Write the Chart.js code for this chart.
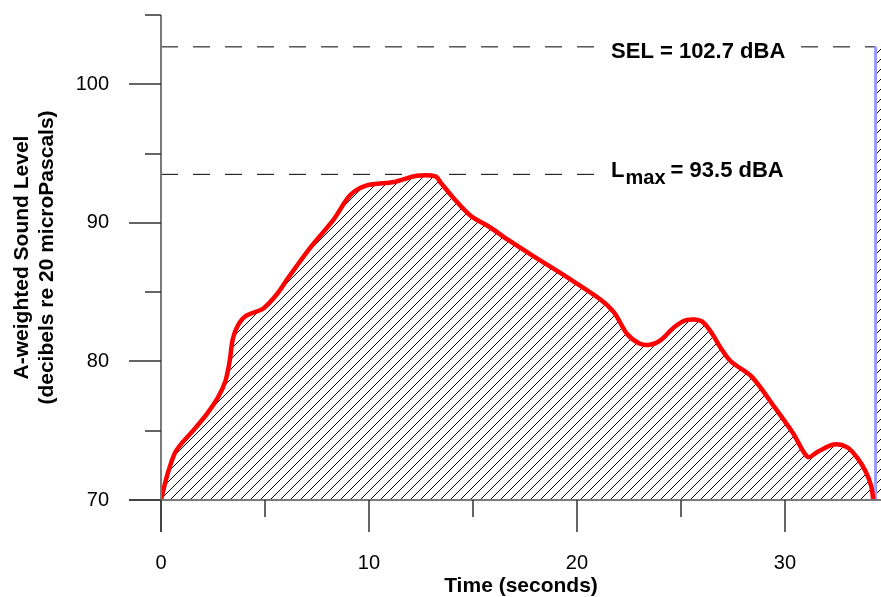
<!DOCTYPE html>
<html>
<head>
<meta charset="utf-8">
<script src="https://cdn.jsdelivr.net/npm/chart.js@4.4.0/dist/chart.umd.min.js"></script>
<style>
  body { margin: 0; background: #fff; }
  canvas { display: block; }
</style>
</head>
<body>
<canvas id="c" width="881" height="597"></canvas>
<script>
// sound level time history (seconds, dBA)
var times = [0, 0.3, 0.67, 1.0, 1.54, 2.2, 2.74, 3.1, 3.3, 3.45, 3.7, 4.1, 4.9, 5.6, 6.1,
  7.17, 8.28, 9.1, 9.9, 11.2, 12.3, 13.2, 13.45, 14.06, 14.9, 15.8, 16.66, 17.9, 19.5,
  21.1, 21.8, 22.4, 23.0, 23.5, 24.0, 24.7, 25.3, 26.0, 26.5, 26.9, 27.4, 28.4, 29.5,
  30.4, 31.1, 31.6, 32.35, 33.0, 33.5, 33.9, 34.15, 34.25];
var levels = [70, 71.8, 73.4, 74.1, 75.0, 76.2, 77.4, 78.6, 80.0, 81.6, 82.6, 83.3, 83.8, 84.9, 86.0,
  88.2, 90.2, 92.0, 92.7, 92.95, 93.4, 93.35, 92.9, 91.8, 90.5, 89.7, 88.8, 87.6, 86.1,
  84.5, 83.5, 82.0, 81.3, 81.2, 81.5, 82.5, 83.0, 82.9, 82.0, 81.0, 80.0, 78.9, 76.7,
  74.8, 73.1, 73.5, 74.0, 73.8, 73.0, 72.0, 71.0, 70];

var SEL = 102.7;
var LMAX = 93.5;
var SEL_START = 34.36;   // 1 s block of equal energy starts here
var LMAX_END = 20.87;    // Lmax guide line stops before its label
var xTicks = [0, 10, 20, 30];
var xMinor = [5, 15, 25];
var yTicks = [70, 80, 90, 100];
var yMinor = [75, 85, 95, 105];

var FONT = "'Liberation Sans', Arial, Helvetica, sans-serif";

function hatchPattern() {
  var p = document.createElement('canvas');
  p.width = 10; p.height = 10;
  var g = p.getContext('2d');
  g.strokeStyle = '#000';
  g.lineWidth = 1;
  g.beginPath();
  g.moveTo(-1, 1); g.lineTo(1, -1);
  g.moveTo(-1, 11); g.lineTo(11, -1);
  g.moveTo(9, 11); g.lineTo(11, 9);
  g.stroke();
  return document.getElementById('c').getContext('2d').createPattern(p, 'repeat');
}
var hatch = hatchPattern();

var curve = times.map(function (t, i) { return { x: t, y: levels[i] }; });

var axesPlugin = {
  id: 'axes',
  afterDraw: function (chart) {
    var ctx = chart.ctx;
    var xs = chart.scales.x, ys = chart.scales.y;
    var x0 = xs.getPixelForValue(0), y0 = ys.getPixelForValue(70);
    ctx.save();
    // axis lines
    ctx.strokeStyle = '#7a7a7a';
    ctx.lineWidth = 2;
    ctx.beginPath();
    ctx.moveTo(x0, ys.getPixelForValue(105));
    ctx.lineTo(x0, y0 + 32);
    ctx.moveTo(x0 - 32, y0);
    ctx.lineTo(chart.width, y0);
    ctx.stroke();
    // tick marks
    ctx.strokeStyle = '#333';
    ctx.lineWidth = 1.5;
    ctx.beginPath();
    xTicks.forEach(function (v) {
      var p = Math.round(xs.getPixelForValue(v));
      ctx.moveTo(p, y0); ctx.lineTo(p, y0 + 32);
    });
    xMinor.forEach(function (v) {
      var p = Math.round(xs.getPixelForValue(v));
      ctx.moveTo(p, y0); ctx.lineTo(p, y0 + 17);
    });
    yTicks.forEach(function (v) {
      var p = Math.round(ys.getPixelForValue(v));
      ctx.moveTo(x0, p); ctx.lineTo(x0 - 32, p);
    });
    yMinor.forEach(function (v) {
      var p = Math.round(ys.getPixelForValue(v));
      ctx.moveTo(x0, p); ctx.lineTo(x0 - 16, p);
    });
    ctx.stroke();

    // labels
    var tx = xs.getPixelForValue(LMAX_END) + 16;
    ctx.fillStyle = '#000';
    ctx.textBaseline = 'alphabetic';
    ctx.textAlign = 'left';
    ctx.font = 'bold 22px ' + FONT;
    var selText = 'SEL = 102.7 dBA';
    var w = ctx.measureText(selText).width;
    var sy = ys.getPixelForValue(SEL);
    ctx.fillStyle = '#fff';
    ctx.fillRect(tx - 13, sy - 10, w + 26, 20);
    ctx.fillStyle = '#000';
    ctx.fillText(selText, tx, sy + 11);

    var ly = ys.getPixelForValue(LMAX) + 3;
    ctx.fillText('L', tx, ly);
    var lw = ctx.measureText('L').width;
    ctx.font = 'bold 20px ' + FONT;
    ctx.fillText('max', tx + lw + 1, ly + 7);
    var mw = ctx.measureText('max').width;
    ctx.font = 'bold 22px ' + FONT;
    ctx.fillText(' = 93.5 dBA', tx + lw + mw, ly);
    ctx.restore();
  }
};

new Chart(document.getElementById('c'), {
  type: 'line',
  data: {
    datasets: [
      {
        data: curve,
        borderColor: '#ff0000',
        borderWidth: 4.5,
        backgroundColor: hatch,
        fill: { value: 70 },
        pointRadius: 0,
        tension: 0.3
      },
      {
        data: [{ x: SEL_START, y: 70 }, { x: SEL_START, y: SEL }],
        borderColor: '#9999ff',
        borderWidth: 3,
        pointRadius: 0,
        fill: false
      },
      {
        data: [{ x: SEL_START, y: SEL }, { x: SEL_START + 1, y: SEL }],
        borderWidth: 0,
        backgroundColor: hatch,
        fill: { value: 70 },
        pointRadius: 0
      },
      {
        data: [{ x: 0, y: SEL }, { x: SEL_START, y: SEL }],
        borderColor: '#000',
        borderWidth: 1,
        borderDash: [17, 15],
        pointRadius: 0,
        fill: false
      },
      {
        data: [{ x: 0, y: LMAX }, { x: LMAX_END, y: LMAX }],
        borderColor: '#000',
        borderWidth: 1,
        borderDash: [17, 15],
        pointRadius: 0,
        fill: false
      }
    ]
  },
  options: {
    responsive: false,
    animation: false,
    events: [],
    layout: { padding: { top: 15, right: 0, left: 0, bottom: 0 } },
    plugins: { legend: { display: false }, tooltip: { enabled: false } },
    scales: {
      x: {
        type: 'linear',
        min: 0,
        max: 34.62,
        grid: { display: false },
        border: { display: false },
        afterBuildTicks: function (s) { s.ticks = xTicks.map(function (v) { return { value: v }; }); },
        afterFit: function (s) { s.height = 97; s.paddingLeft = 0; s.paddingRight = 0; },
        ticks: { color: '#000', font: { family: FONT, size: 20 }, padding: 43, maxRotation: 0 },
        title: {
          display: true,
          text: 'Time (seconds)',
          color: '#000',
          font: { family: FONT, size: 21, weight: 'bold', lineHeight: 1 },
          padding: { top: 0, bottom: 0 }
        }
      },
      y: {
        min: 70,
        max: 105,
        grid: { display: false },
        border: { display: false },
        afterBuildTicks: function (s) { s.ticks = yTicks.map(function (v) { return { value: v }; }); },
        afterFit: function (s) { s.width = 161; s.paddingTop = 0; s.paddingBottom = 0; },
        ticks: { color: '#000', font: { family: FONT, size: 20 }, padding: 44 },
        title: {
          display: true,
          text: ['A-weighted Sound Level', '(decibels re 20 microPascals)'],
          color: '#000',
          font: { family: FONT, size: 21, weight: 'bold', lineHeight: 1.2 },
          padding: { top: 9.5, bottom: 0 }
        }
      }
    }
  },
  plugins: [axesPlugin]
});
</script>
</body>
</html>
